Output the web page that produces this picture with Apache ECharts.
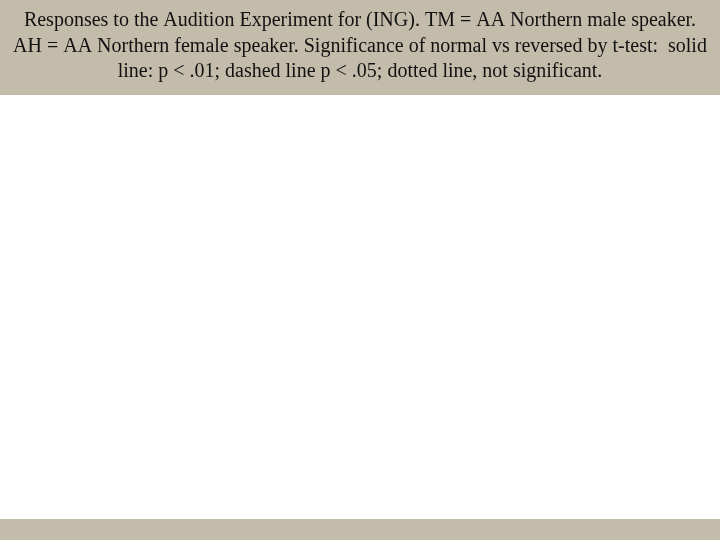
<!DOCTYPE html>
<html>
<head>
<meta charset="utf-8">
<script src="https://cdn.jsdelivr.net/npm/echarts@6/dist/echarts.min.js"></script>
<style>
  html, body { margin: 0; padding: 0; background: #fff; }
  #main { width: 720px; height: 540px; }
</style>
</head>
<body>
<div id="main"></div>
<script>
// caption text, one entry per line as in the slide
const captionLines = [
  'Responses to the Audition Experiment for (ING). TM = AA Northern male speaker.',
  'AH = AA Northern female speaker. Significance of normal vs reversed by t-test:  solid',
  'line: p < .01; dashed line p < .05; dotted line, not significant.'
];

const chart = echarts.init(document.getElementById('main'));

const band = '#c4bcab';

const option = {
  backgroundColor: '#ffffff',
  animation: false,
  graphic: [
    {
      type: 'rect',
      shape: { x: 0, y: 0, width: 720, height: 95 },
      style: { fill: band }
    },
    {
      type: 'rect',
      shape: { x: 0, y: 519, width: 720, height: 21 },
      style: { fill: band }
    }
  ].concat(captionLines.map((line, i) => ({
    type: 'text',
    x: 360,
    y: 21 + i * 25.5,
    style: {
      text: line,
      fill: '#111',
      font: '20px "Liberation Serif", "DejaVu Serif", serif',
      textAlign: 'center',
      textVerticalAlign: 'middle'
    }
  })))
};

chart.setOption(option);
</script>
</body>
</html>
